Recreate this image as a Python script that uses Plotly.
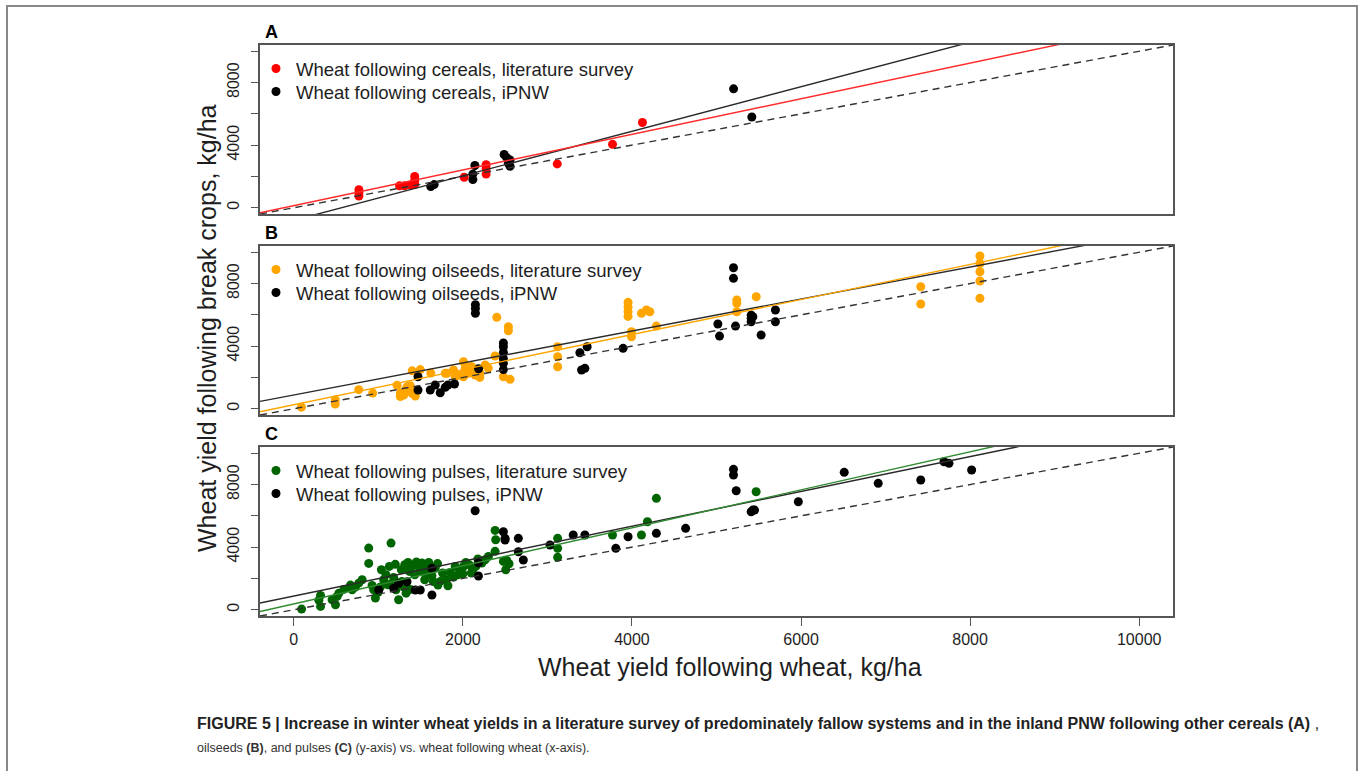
import plotly.graph_objects as go

# ---- panel A: wheat after cereals ----
a_lit_x = [770, 770, 770, 1250, 1310, 1380, 1430, 1430, 1430, 2015, 2275, 2275, 2275, 3116, 3770, 4124]
a_lit_y = [1150, 950, 750, 1400, 1400, 1450, 2000, 1750, 1500, 1950, 2750, 2500, 2150, 2800, 4050, 5450]
a_pnw_x = [1620, 1660, 2118, 2118, 2142, 2488, 2519, 2558, 2558, 2538, 5202, 5418]
a_pnw_y = [1350, 1480, 1800, 2150, 2700, 3400, 3200, 3050, 2650, 2850, 7600, 5800]

# ---- panel B: wheat after oilseeds ----
b_lit_x = [90, 490, 490, 768, 933, 1221, 1260, 1260, 1300, 1319, 1339, 1378, 1398, 1437, 1437,
           1400, 1496, 1620, 1791, 1811, 1889, 1909, 1960, 2007, 2007, 2027, 2066, 2086, 2106,
           2145, 2185, 2200, 2204, 2263, 2300, 2381, 2401, 2479, 2558, 2538, 2538,
           3121, 3121, 3121, 3954, 3954, 3954, 3954, 3994, 3994, 4112, 4171, 4211, 4289,
           5240, 5240, 5240, 5470, 7416, 7416, 8116, 8116, 8116, 8116, 8116]
b_lit_y = [100, 560, 300, 1220, 1000, 1500, 1000, 780, 880, 1200, 1400, 1470, 990, 810, 1000,
           2420, 2500, 2280, 2262, 2262, 2473, 2045, 2150, 3003, 2045, 2580, 2262, 2684, 2684,
           2153, 2364, 2000, 2262, 2792, 2600, 3367, 5840, 2045, 1879, 5240, 4984,
           3962, 3323, 2684, 6800, 6500, 6200, 5900, 4920, 4600, 6096, 6307, 6200, 5284,
           6946, 6735, 6198, 7157, 7796, 6690, 9758, 9290, 8754, 8160, 7055]
b_pnw_x = [2148, 2148, 2148, 2479, 2479, 2479, 2479, 2479, 2479, 2185, 1469, 1469, 1614, 1673,
           1732, 1791, 1823, 1901, 3384, 3443, 3404, 3470, 3895, 5016, 5036, 5201, 5201, 5225,
           5410, 5410, 5410, 5430, 5528, 5697, 5697]
b_pnw_y = [6650, 6400, 6100, 4200, 3960, 3600, 3200, 2900, 2500, 2550, 2045, 1195, 1195, 1514,
           1022, 1367, 1514, 1578, 3578, 2580, 2473, 3962, 3860, 5412, 4645, 9010, 8332, 5284,
           5987, 5776, 5560, 5880, 4709, 6307, 5560]

# ---- panel C: wheat after pulses ----
c_lit_x = [92, 316, 316, 296, 453, 493, 513, 533, 591, 670, 690, 729, 768, 808, 886, 886,
           926, 945, 965, 997, 1024, 1036, 1063, 1090, 1114, 1130, 1162, 1181, 1150, 1240,
           1209, 1233, 1280, 1304, 1328, 1272, 1312, 1351, 1367, 1398, 1430, 1458, 1485, 1516,
           1548, 1564, 1596, 1634, 1673, 1705, 1733, 1760, 1800, 1823, 1850, 1890, 1909, 1940,
           1968, 2007, 2035, 2074, 2114, 2153, 2177, 2224, 2263, 2302, 2381, 2388, 2381, 2479,
           2519, 2546, 2507, 1200, 1450, 1550, 1700, 1380, 1650, 2000, 2100,
           3121, 3121, 3121, 3770, 4112, 4183, 4289, 5469]
c_lit_y = [40, 916, 213, 600, 640, 320, 850, 1060, 1300, 1575, 1280, 1450, 1700, 1917, 3940, 2960,
           1555, 1278, 745, 1110, 1450, 2556, 1917, 2236, 1600, 2770, 1700, 2060, 4260, 640,
           1278, 1600, 1810, 1450, 1060, 2556, 2875, 3025, 2450, 2770, 2236, 2875, 2450, 2980,
           1917, 2340, 3025, 2170, 2660, 1575, 1810, 2340, 1917, 1530, 2380, 2080, 2770, 2236,
           2556, 2770, 3025, 2875, 2510, 2770, 3240, 2980, 3195, 3410, 5070, 4470, 3730, 3090,
           3150, 2940, 2556, 2900, 3050, 2700, 2950, 1300, 1800, 2300, 2350,
           4562, 3923, 3348, 4773, 4773, 5623, 7118, 7540]
c_pnw_x = [2145, 2479, 2499, 2499, 2656, 2656, 2715, 2184, 2184, 3030, 3305, 3443, 3809, 3954,
           4289, 1634, 1004, 1181, 1240, 1339, 1437, 1496, 1634, 4635, 5201, 5201, 5233, 5410,
           5430, 5450, 5968, 6511, 6913, 7416, 7691, 7750, 8018]
c_pnw_y = [6327, 4984, 4562, 4454, 4562, 3706, 3176, 3003, 2153, 4134, 4773, 4773, 3923, 4665,
           4882, 2645, 1259, 1367, 1687, 1789, 1259, 1259, 939, 5201, 8972, 8608, 7604, 6262,
           6370, 6370, 6901, 8780, 8077, 8288, 9457, 9355, 8927]

# fitted regression lines (intercept, slope) per panel: [literature survey, iPNW]
fit_intercepts = [[135, -803], [258, 880], [376, 878]]
fit_slopes = [[1.138, 1.4226], [1.12, 1.022], [1.2146, 1.114]]

panel_names = ["A", "B", "C"]
crop_names = ["cereals", "oilseeds", "pulses"]
lit_colors = ["#ff0000", "#ffa500", "#006400"]
line_colors = ["#ff2a2a", "#ffa500", "#2f8a2f"]
lit_x = [a_lit_x, b_lit_x, c_lit_x]
lit_y = [a_lit_y, b_lit_y, c_lit_y]
pnw_x = [a_pnw_x, b_pnw_x, c_pnw_x]
pnw_y = [a_pnw_y, b_pnw_y, c_pnw_y]

AX_MIN, AX_MAX = -400, 10400
tick_vals = [0, 2000, 4000, 6000, 8000, 10000]
y_tick_text = ["0", "", "4000", "", "8000", ""]
x_tick_text = ["0", "2000", "4000", "6000", "8000", "10000"]

W, H = 1362, 771


def px(x):
    return x / W


def py(y):
    return 1 - y / H


x_dom = [px(260), px(1173)]
panel_tops = [45, 246, 447]
y_doms = [[py(t + 169), py(t)] for t in panel_tops]

FONT = "Liberation Sans, Arial, sans-serif"
TXT = "#1e1e1e"
FRAME = "#555555"

fig = go.Figure()
line_x = [AX_MIN, AX_MAX]


def legend_key(n):
    return "legend" if n == 1 else f"legend{n}"


for i in range(3):
    xa = "x" if i == 0 else f"x{i+1}"
    ya = "y" if i == 0 else f"y{i+1}"
    fig.add_trace(go.Scatter(
        x=lit_x[i], y=lit_y[i], mode="markers", xaxis=xa, yaxis=ya,
        marker=dict(color=lit_colors[i], size=9, line=dict(width=0)),
        name=f"Wheat following {crop_names[i]}, literature survey", legend=legend_key(2 * i + 1)))
    fig.add_trace(go.Scatter(
        x=pnw_x[i], y=pnw_y[i], mode="markers", xaxis=xa, yaxis=ya,
        marker=dict(color="#000000", size=9, line=dict(width=0)),
        name=f"Wheat following {crop_names[i]}, iPNW", legend=legend_key(2 * i + 2)))
    # 1:1 reference line
    fig.add_trace(go.Scatter(
        x=line_x, y=line_x, mode="lines", xaxis=xa, yaxis=ya, showlegend=False,
        line=dict(color="#333333", width=1.4, dash="7px,5px"), hoverinfo="skip"))
    # regression lines
    b0, b1 = fit_intercepts[i][1], fit_slopes[i][1]
    fig.add_trace(go.Scatter(
        x=line_x, y=[b0 + b1 * v for v in line_x], mode="lines", xaxis=xa, yaxis=ya,
        showlegend=False, line=dict(color="#2a2a2a", width=1.4), hoverinfo="skip"))
    b0, b1 = fit_intercepts[i][0], fit_slopes[i][0]
    fig.add_trace(go.Scatter(
        x=line_x, y=[b0 + b1 * v for v in line_x], mode="lines", xaxis=xa, yaxis=ya,
        showlegend=False, line=dict(color=line_colors[i], width=1.4), hoverinfo="skip"))

layout = dict(
    width=W, height=H, margin=dict(l=0, r=0, t=0, b=0),
    paper_bgcolor="white", plot_bgcolor="white",
    font=dict(family=FONT, color=TXT),
    showlegend=True,
)

for i in range(3):
    xk = "xaxis" if i == 0 else f"xaxis{i+1}"
    yk = "yaxis" if i == 0 else f"yaxis{i+1}"
    ya = "y" if i == 0 else f"y{i+1}"
    xa = "x" if i == 0 else f"x{i+1}"
    bottom = (i == 2)
    layout[xk] = dict(
        domain=x_dom, range=[AX_MIN, AX_MAX], anchor=ya,
        showline=True, mirror=True, linecolor=FRAME, linewidth=1.5,
        showgrid=False, zeroline=False,
        tickvals=tick_vals if bottom else [], ticktext=x_tick_text if bottom else [],
        ticks="outside" if bottom else "", ticklen=8, tickwidth=1.3, tickcolor=FRAME,
        showticklabels=bottom, tickfont=dict(size=16, color=TXT, family=FONT),
    )
    layout[yk] = dict(
        domain=y_doms[i], range=[AX_MIN, AX_MAX], anchor=xa,
        showline=True, mirror=True, linecolor=FRAME, linewidth=1.5,
        showgrid=False, zeroline=False,
        tickvals=tick_vals, ticktext=y_tick_text, tickangle=-90,
        ticks="outside", ticklen=7, tickwidth=1.3, tickcolor=FRAME,
        tickfont=dict(size=16, color=TXT, family=FONT), ticklabelstandoff=6,
    )
    # one legend box per entry, stacked 23 px apart inside the panel
    for j in range(2):
        centre = panel_tops[i] + 24 + 23 * j
        layout[legend_key(2 * i + j + 1)] = dict(
            x=px(256), y=py(centre - 19), xanchor="left", yanchor="top",
            bgcolor="rgba(0,0,0,0)", borderwidth=0, itemwidth=30,
            font=dict(size=18.5, color=TXT, family=FONT),
        )

annotations = []
for i in range(3):
    annotations.append(dict(
        text=f"<b>{panel_names[i]}</b>", x=px(271), y=py(panel_tops[i] - 13),
        xref="paper", yref="paper", showarrow=False, xanchor="center", yanchor="middle",
        font=dict(size=18, color="#000000", family=FONT)))

annotations.append(dict(
    text="Wheat yield following wheat, kg/ha", x=px(730), y=py(667),
    xref="paper", yref="paper", showarrow=False, xanchor="center", yanchor="middle",
    font=dict(size=25, color=TXT, family=FONT)))
annotations.append(dict(
    text="Wheat yield following break crops, kg/ha", x=px(207), y=py(328),
    xref="paper", yref="paper", showarrow=False, textangle=-90,
    xanchor="center", yanchor="middle",
    font=dict(size=25, color=TXT, family=FONT)))

annotations.append(dict(
    text="<b>FIGURE 5 | Increase in winter wheat yields in a literature survey of predominately "
         "fallow systems and in the inland PNW following other cereals (A)</b> ,",
    x=px(195), y=py(723), xref="paper", yref="paper", showarrow=False,
    xanchor="left", yanchor="middle", font=dict(size=16, color="#222222", family=FONT)))
annotations.append(dict(
    text="oilseeds <b>(B)</b>, and pulses <b>(C)</b> (y-axis) vs. wheat following wheat (x-axis).",
    x=px(195), y=py(748), xref="paper", yref="paper", showarrow=False,
    xanchor="left", yanchor="middle", font=dict(size=12.5, color="#333333", family=FONT)))

layout["annotations"] = annotations
layout["shapes"] = [dict(
    type="rect", xref="paper", yref="paper", x0=px(7), x1=px(1357), y0=-0.02, y1=py(6),
    line=dict(color="#888888", width=2), fillcolor="rgba(0,0,0,0)", layer="below")]

fig.update_layout(**layout)
fig.write_html("out.html")
